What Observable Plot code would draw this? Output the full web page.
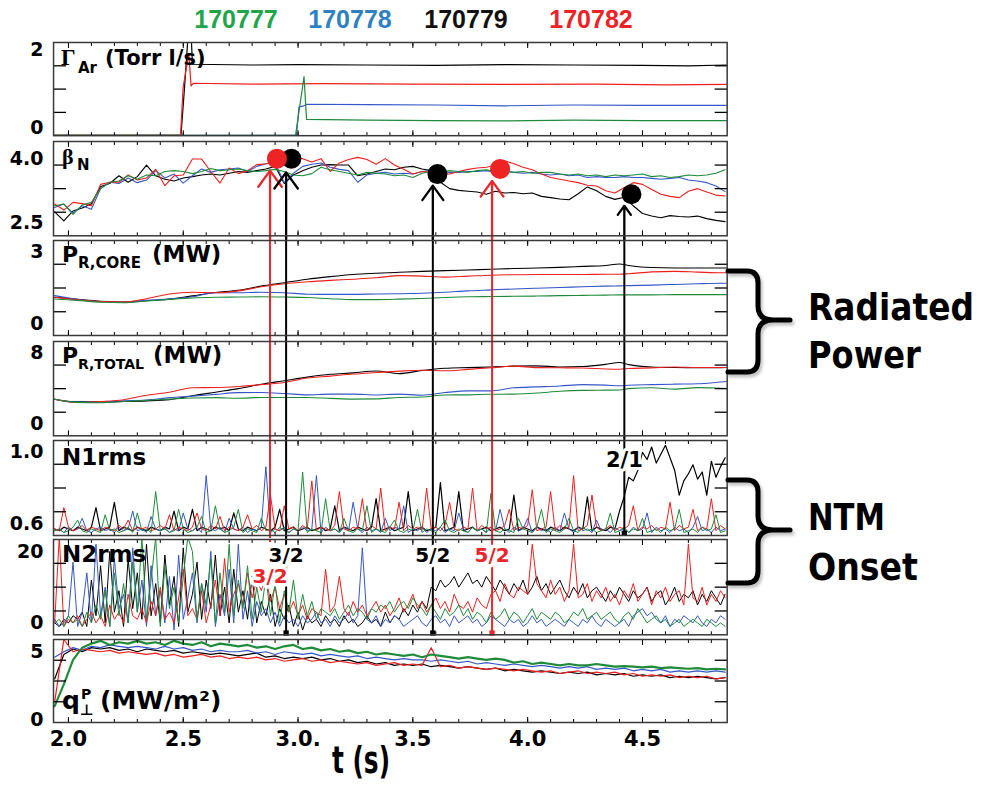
<!DOCTYPE html>
<html><head><meta charset="utf-8">
<script src="https://cdn.jsdelivr.net/npm/d3@7"></script>
<script src="https://cdn.jsdelivr.net/npm/@observablehq/plot@0.6"></script>
<style>
html,body{margin:0;padding:0;background:#fff;}
#fig{position:relative;width:984px;height:786px;overflow:hidden;background:#fff;}
#fig svg{position:absolute;left:0;}
</style></head><body><div id="fig"></div>
<script>
// ---------------- DATA ----------------
const shots = ["170777", "170778", "170779", "170782"];
const legendX = [236, 350, 466, 591];
const legendColors = {"170777": "#21a54b", "170778": "#2f7fc3", "170779": "#111111", "170782": "#ec2227"};
const lineColors = {"170777": "#1f8b3a", "170778": "#3556c8", "170779": "#000000", "170782": "#f01e1e"};
const drawOrder = ["170779", "170778", "170782", "170777"];

const xDomain = [1.935, 4.869];
const xMajor = [2.0, 2.5, 3.0, 3.5, 4.0, 4.5];
const xTickLabels = ["2.0", "2.5", "3.0.", "3.5", "4.0", "4.5"];
const xMinor = [2.0,2.1,2.2,2.3,2.4,2.5,2.6,2.7,2.8,2.9,3.0,3.1,3.2,3.3,3.4,3.5,3.6,3.7,3.8,3.9,4.0,4.1,4.2,4.3,4.4,4.5,4.6,4.7,4.8];

// Gamma_Ar (Torr l/s)
const gamT_170779 = [1.935, 2.49, 2.505, 2.52, 2.535, 2.54, 2.8, 3.0, 3.3, 3.6, 3.9, 4.2, 4.5, 4.7, 4.869];
const gamV_170779 = [-0.19, -0.19, 1.0, 2.3, 2.3, 1.64, 1.62, 1.63, 1.62, 1.61, 1.63, 1.62, 1.61, 1.60, 1.62];
const gamT_170782 = [1.935, 2.488, 2.4995, 2.524, 2.534, 2.543, 2.8, 3.1, 3.5, 3.9, 4.3, 4.6, 4.869];
const gamV_170782 = [-0.19, -0.19, 1.05, 1.92, 1.08, 1.15, 1.13, 1.14, 1.13, 1.12, 1.13, 1.11, 1.12];
const gamT_170778 = [1.935, 2.993, 3.004, 3.02, 3.04, 3.3, 3.6, 3.9, 4.2, 4.5, 4.869];
const gamV_170778 = [-0.19, -0.19, 0.54, 0.56, 0.61, 0.60, 0.59, 0.57, 0.59, 0.58, 0.58];
const gamT_170777 = [1.935, 2.989, 3.026, 3.037, 3.3, 3.6, 3.9, 4.2, 4.5, 4.869];
const gamV_170777 = [-0.19, -0.19, 1.32, 0.22, 0.20, 0.19, 0.18, 0.20, 0.19, 0.19];

// beta_N, sampled every 0.04 s from 1.94 s
const tB = d3.range(74).map(i => Math.round((1.94 + 0.04 * i) * 100) / 100);
const beta_170779 = [2.76,2.55,2.78,2.85,2.95,3.35,3.42,3.60,3.45,3.58, 3.85,3.60,3.52,3.48,3.55,3.58,3.62,3.64,3.62,3.66, 3.70,3.68,3.72,3.76,3.82,3.42,3.62,3.72,3.80,3.85, 3.86,3.85,3.85,3.60,3.64,3.70,3.76,3.74,3.80,3.82, 3.76,3.72,3.45,3.30,3.26,3.24,3.22,3.17,3.24,3.20, 3.21,3.18,3.20,3.12,3.09,3.06,3.04,3.18,3.34,3.25, 3.12,3.05,3.10,2.90,2.72,2.66,2.62,2.67,2.65,2.64, 2.66,2.60,2.56,2.53];
const beta_170782 = [2.94,2.80,2.98,2.95,2.90,3.40,3.45,3.45,3.62,3.50, 3.55,3.75,3.37,3.60,3.62,3.99,3.99,3.70,3.43,3.78, 3.65,3.72,3.86,3.88,3.92,3.95,4.02,4.00,3.92,4.00, 3.70,3.90,3.98,4.03,3.98,3.87,4.00,3.85,3.75,3.64, 3.70,3.68,3.65,3.64,3.70,3.75,3.78,3.80,3.85,3.95, 3.88,3.80,3.74,3.64,3.56,3.52,3.48,3.44,3.38,3.36, 3.25,3.20,3.32,3.44,3.40,3.28,3.17,3.12,3.09,3.24, 3.30,3.22,3.15,3.13];
const beta_170778 = [2.86,2.94,2.73,2.90,2.82,3.30,3.45,3.42,3.55,3.44, 3.50,3.72,3.55,3.64,3.43,3.60,3.76,3.68,3.74,3.76, 3.78,3.70,3.82,3.88,3.90,3.44,3.66,3.82,3.87,3.90, 3.80,3.75,3.72,3.45,3.62,3.66,3.68,3.64,3.66,3.64, 3.70,3.72,3.70,3.68,3.68,3.70,3.70,3.72,3.68,3.70, 3.68,3.66,3.68,3.64,3.62,3.64,3.60,3.62,3.56,3.58, 3.56,3.56,3.58,3.56,3.56,3.54,3.52,3.54,3.56,3.50, 3.48,3.44,3.36,3.23];
const beta_170777 = [2.90,2.94,2.70,2.92,2.98,3.30,3.45,3.48,3.60,3.52, 3.62,3.60,3.70,3.72,3.70,3.65,3.70,3.77,3.72,3.74, 3.76,3.72,3.70,3.72,3.75,3.70,3.62,3.60,3.65,3.80, 3.74,3.70,3.66,3.62,3.68,3.66,3.64,3.60,3.62,3.56, 3.66,3.70,3.68,3.72,3.70,3.68,3.72,3.74,3.70,3.72, 3.68,3.70,3.66,3.68,3.68,3.64,3.62,3.64,3.60,3.62, 3.58,3.62,3.60,3.62,3.64,3.58,3.60,3.56,3.58,3.62, 3.60,3.62,3.66,3.74];

// Radiated power
const tP = [1.94,2.04,2.14,2.24,2.34,2.44,2.54,2.64,2.74,2.84,2.94,3.04,3.14,3.24,3.34,3.44,3.54,3.64,3.74,3.84,3.94,4.04,4.14,4.24,4.34,4.40,4.44,4.54,4.64,4.74,4.84,4.87];
const core_170779 = [1.11,1.02,0.94,0.91,0.97,1.03,1.17,1.31,1.40,1.58, 1.72,1.87,1.98,2.07,2.12,2.16,2.20,2.23,2.26,2.29, 2.32,2.34,2.37,2.41,2.45,2.51,2.45,2.36,2.34,2.34, 2.34,2.34];
const core_170782 = [1.11,1.00,0.93,0.91,1.05,1.25,1.32,1.30,1.38,1.55, 1.68,1.76,1.82,1.87,1.93,2.02,2.00,1.96,2.00,2.04, 2.06,2.07,2.07,2.07,2.08,2.08,2.10,2.18,2.20,2.17, 2.14,2.14];
const core_170778 = [1.18,1.02,0.92,0.90,0.98,1.03,1.13,1.30,1.30,1.32, 1.30,1.24,1.23,1.23,1.25,1.26,1.28,1.32,1.38,1.42, 1.46,1.49,1.52,1.55,1.58,1.59,1.60,1.62,1.65,1.68, 1.70,1.70];
const core_170777 = [1.04,0.98,0.90,0.88,0.95,1.02,1.08,1.11,1.12,1.13, 1.12,1.10,1.05,1.01,1.01,1.03,1.06,1.10,1.13,1.14, 1.15,1.16,1.18,1.19,1.20,1.21,1.21,1.21,1.22,1.22, 1.22,1.22];
const total_170779 = [2.81,2.50,2.50,2.55,2.62,2.75,3.20,3.60,4.00,4.50, 4.90,5.30,5.62,5.78,6.00,5.70,6.05,6.30,6.38,6.45, 6.55,6.58,6.45,6.50,6.75,6.96,6.72,6.45,6.39,6.36, 6.38,6.39];
const total_170782 = [2.81,2.43,2.55,2.75,3.25,3.60,4.10,4.13,4.25,4.45, 4.70,5.20,5.42,5.65,5.82,5.98,6.08,6.02,6.18,6.36, 6.55,6.38,6.36,6.34,6.22,6.20,6.28,6.35,6.45,6.40, 6.39,6.39];
const total_170778 = [2.81,2.45,2.50,2.62,2.72,2.98,3.15,3.35,3.55,3.56, 3.45,3.30,3.38,3.38,3.28,3.38,3.26,3.56,3.75,3.75, 4.10,4.20,4.30,4.45,4.40,4.32,4.38,4.45,4.51,4.55, 4.75,4.81];
const total_170777 = [2.81,2.45,2.40,2.55,2.68,2.82,2.95,2.98,2.92,3.00, 3.00,3.00,2.90,2.82,2.84,3.00,3.05,3.28,3.30,3.36, 3.38,3.50,3.70,3.80,3.83,3.85,4.00,4.10,3.95,4.12, 4.05,4.02];

// N1rms (x100) and N2rms, sampled every 0.02 s from 1.94 s
const tN = d3.range(147).map(i => Math.round((1.94 + 0.02 * i) * 100) / 100);
const n1x100_170782 = [57,56,69,58,56,57,59,56,58,57, 56,58,57,56,59,57,62,56,58,57, 58,56,57,59,57,65,56,58,57,56, 58,66,57,56,59,57,64,56,58,57, 56,58,65,57,59,56,58,76,57,56, 70,57,58,56,59,57,84,56,58,57, 56,59,78,57,56,58,57,74,56,59, 57,80,56,58,57,72,56,59,57,58, 56,80,57,58,56,59,72,57,56,58, 57,80,56,59,57,58,56,57,59,68, 56,58,57,59,79,56,57,58,78,56, 59,57,58,87,56,57,59,76,58,56, 57,59,56,58,57,59,70,56,58,57, 59,56,58,57,72,56,59,57,58,68, 56,58,57,74,56,59,57];
const n1x100_170778 = [56,57,55,58,56,57,63,56,55,57, 58,56,57,55,58,56,57,67,56,57, 55,64,57,56,58,55,57,56,66,57, 56,58,55,87,57,56,58,55,63,57, 56,58,55,57,56,58,92,55,57,56, 58,55,57,56,58,56,57,87,55,58, 56,57,55,58,56,72,57,55,58,56, 57,55,63,56,58,57,70,55,57,56, 58,55,57,56,58,55,57,56,66,57, 55,58,56,57,55,58,56,68,57,55, 58,56,57,63,55,58,56,57,55,58, 56,66,57,55,58,56,57,55,62,56, 57,55,58,56,57,55,58,56,57,66, 55,58,56,57,55,58,56,57,55,58, 64,56,57,55,58,56,57];
const n1x100_170779 = [57,56,58,57,56,58,57,56,58,69, 56,57,58,72,56,58,57,56,58,57, 56,58,57,56,58,57,67,56,58,57, 68,56,58,57,56,58,57,58,56,66, 57,56,58,57,56,58,57,56,58,68, 56,57,58,56,57,58,56,57,58,56, 57,70,56,58,57,56,58,57,56,58, 74,56,57,58,56,57,58,78,56,57, 58,56,57,58,83,56,57,58,78,56, 57,58,56,57,58,56,57,58,56,57, 76,56,58,57,56,58,57,56,58,57, 56,58,57,56,58,57,75,56,58,57, 56,58,57,67,75,86,84,90,100,96, 103,94,99,104,97,90,76,84,88,93, 85,89,76,95,86,92,97];
const n1x100_170777 = [56,57,55,56,58,62,56,55,57,56, 55,65,56,57,55,56,58,55,66,56, 57,55,78,56,57,55,56,68,57,55, 56,58,64,55,56,70,57,55,56,58, 68,55,57,56,55,63,56,57,55,58, 56,55,57,56,89,55,57,56,55,74, 56,57,55,63,56,55,57,56,70,55, 57,56,55,58,62,56,55,57,56,68, 55,57,56,55,58,62,56,55,57,56, 55,58,56,57,55,77,56,55,57,56, 55,63,57,56,55,58,68,55,57,56, 55,57,63,56,55,58,56,57,55,56, 57,66,55,56,58,55,57,56,63,55, 56,57,55,58,56,57,68,55,56,57, 55,58,56,57,65,55,56];
const n2_170779 = [0,-1,1,0,2,1,3,-1,12,2, 16,0,20,3,9,-1,18,4,14,1, 22,2,11,0,19,5,13,-1,21,3, 8,17,1,12,4,19,2,10,0,15, 3,9,1,13,0,6,2,8,-1,4, 1,5,-1,3,-2,2,0,1,-1,2, 0,1,-1,2,0,1,-1,0,2,0, 1,-1,3,0,2,1,4,2,5,3, 6,4,10,9,12,10,11,13,10,12, 14,11,12,10,13,11,9,12,10,8, 11,9,12,8,10,13,9,11,8,10, 12,9,7,10,8,11,7,9,10,8, 6,9,7,10,8,6,9,7,8,10, 6,8,9,5,7,10,6,8,7,9, 5,8,6,9,7,5,8];
const n2_170778 = [1,-1,0,2,17,-1,3,14,0,22, 2,10,-1,18,4,8,0,21,3,12, -1,16,2,9,0,13,-2,19,1,7, 14,0,11,3,20,-1,8,2,15,0, 22,1,9,-1,6,2,4,0,3,-1, 2,0,1,-1,2,0,1,3,0,1, -1,2,0,1,3,0,2,21,1,0, 2,-1,1,0,2,1,-1,0,1,2, 0,-1,1,2,0,1,-1,2,0,1, 2,0,1,-1,0,2,1,0,-1,1, 0,1,-1,0,2,0,1,-1,0,1, 0,-1,1,0,-1,1,0,2,0,-1, 1,0,-1,0,1,-1,2,3,4,2, 3,1,0,2,-1,1,0,2,1,0, 2,0,-1,1,0,2,1];
const n2_170782 = [0,24,-1,1,0,2,-1,1,3,0, 2,-1,5,1,3,0,8,2,1,4, 0,6,2,10,1,3,0,7,15,2, 4,1,9,0,5,12,2,18,3,8, 11,5,14,7,12,9,13,6,10,4, 8,3,6,2,5,1,4,3,2,15, 3,5,13,4,2,6,3,5,2,4, 6,3,5,2,4,7,3,5,8,4, 6,3,5,7,4,6,3,8,5,4, 6,3,7,5,4,8,9,6,11,8, 7,10,9,8,22,11,9,7,12,8, 10,6,9,22,7,8,11,6,9,7, 10,6,8,5,9,7,11,6,8,10, 5,9,7,10,6,8,9,5,22,7, 6,10,5,8,6,9,7];
const n2_170777 = [0,1,-1,2,0,1,-1,3,0,5, 1,9,-1,14,2,11,0,17,3,24, 1,12,24,-1,16,4,10,0,13,24, 20,1,11,5,18,0,14,3,22,2, 12,4,16,1,10,3,13,2,11,0, 9,3,12,1,8,2,6,1,4,3, 2,4,1,3,5,2,4,3,1,4, 3,5,4,6,3,5,6,4,7,5, 4,2,5,3,1,4,2,3,5,2, 4,1,3,2,0,3,1,2,4,1, 3,2,0,2,4,1,3,2,1,3, 2,0,1,3,2,4,1,2,3,1, 2,3,1,0,2,3,1,4,2,0, 1,2,0,1,-1,0,1,-1,0,1, 0,-1,1,0,-1,0,-1];

// q_perp^P (MW/m^2), sampled every 0.04 s from 1.94 s
const q_170777 = [1.0,2.6,4.4,5.3,5.6, 5.8,5.5,5.7,5.6,5.8, 5.6,5.7,5.5,5.8,5.6,5.5,5.7,5.4,5.6,5.5, 5.4,5.5,5.3,5.4,5.2,5.4,5.5,5.2,5.3,5.1, 5.2,5.0,5.1,4.9,5.0,4.8,4.9,4.8,4.7,4.8, 4.6,4.8,4.7,4.6,4.5,4.6,4.5,4.4,4.5,4.4, 4.2,4.3,4.1,4.2,4.1,4.0,4.1,4.0,4.0,4.1, 4.0,3.9,3.95,3.9,3.85,3.9,3.8,3.85,3.8,3.75, 3.8,3.7,3.75,3.7];
const q_170778 = [4.6,5.0,5.3,5.1,5.4, 5.3,5.5,5.4,5.3,5.4, 5.3,5.2,5.4,5.2,5.3,5.1,5.2,5.0,5.1,5.0, 5.0,5.1,4.9,5.0,4.8,5.0,4.9,4.8,4.9,4.7, 4.8,4.7,4.6,4.7,4.5,4.6,4.5,4.4,4.5,4.4, 4.4,4.3,4.4,4.3,4.2,4.3,4.1,4.2,4.1,4.0, 4.1,4.0,3.9,4.0,3.9,3.8,3.9,3.8,3.9,3.7, 3.8,3.7,3.8,3.6,3.7,3.6,3.7,3.5,3.6,3.5, 3.6,3.5,3.6,3.5];
const q_170779 = [3.0,4.8,5.2,5.0,5.3, 5.2,5.3,5.1,5.2,5.0, 5.2,5.1,5.0,5.1,4.9,5.0,4.9,4.8,4.9,4.8, 4.7,4.8,4.9,4.6,4.7,4.5,4.6,4.5,4.6,4.4, 4.5,4.3,4.4,4.2,4.3,4.1,4.2,4.0,4.1,4.0, 4.1,3.9,4.0,3.9,3.8,3.9,3.8,3.7,3.8,3.6, 3.7,3.6,3.5,3.6,3.5,3.4,3.5,3.4,3.5,3.3, 3.4,3.3,3.4,3.2,3.3,3.2,3.3,3.1,3.2,3.1, 3.2,3.1,3.0,3.1];
const q_170782 = [1.3,5.9,5.0,5.2,5.1, 5.0,5.1,4.9,5.0,4.9, 4.8,4.9,4.7,4.8,4.6,4.7,4.8,4.6,4.7,4.5, 4.6,4.5,4.6,4.4,4.5,4.3,4.4,4.5,4.3,4.4, 4.2,4.3,4.2,4.1,4.2,4.0,4.1,4.2,4.0,4.1, 4.0,5.3,3.9,4.0,3.8,3.9,3.8,3.7,3.8,3.7, 3.6,3.7,3.6,3.5,3.6,3.4,3.5,3.6,3.4,3.5, 3.4,3.5,3.3,3.4,3.2,3.3,3.2,3.3,3.1,3.2, 3.1,3.2,3.0,3.1];

// NTM onsets
const onsetMode = ["3/2", "3/2", "5/2", "5/2", "2/1"];
const onsetShot = ["170782", "170779", "170779", "170782", "170779"];
const onsetT = [2.878, 2.948, 3.587, 3.845, 4.421];
const onsetDotT = [2.908, 2.971, 3.607, 3.880, 4.452];
const onsetDotBeta = [4.00, 4.00, 3.64, 3.76, 3.17];
const onsetTipBeta = [3.72, 3.68, 3.37, 3.48, 2.90];
const onsetLabelV = [12.9, 18.9, 18.9, 18.9, 0.957];
const redLineEndN2 = 21.65;

// ---------------- BUILD ----------------
const annoColor = {"170782": "#e8262b", "170779": "#000000"};
const onsets = onsetT.map((t, i) => ({t, mode: onsetMode[i], color: annoColor[onsetShot[i]], dotT: onsetDotT[i], dotV: onsetDotBeta[i], tip: onsetTipBeta[i], labV: onsetLabelV[i]}));
const FONT = "DejaVu Sans";

function ser(t, v) { return {t, v}; }
function rows(s) { return s.t.map((t, k) => ({t, v: s.v[k]})); }

const panels = [
  {top: 42.4, bottom: 135.6, domain: [-0.2, 2.2], labels: [0, 2], fmt: d => String(d),
   series: {"170779": ser(gamT_170779, gamV_170779), "170782": ser(gamT_170782, gamV_170782), "170778": ser(gamT_170778, gamV_170778), "170777": ser(gamT_170777, gamV_170777)}, width: 1.2},
  {top: 140.7, bottom: 235, domain: [2.2, 4.4], labels: [2.5, 4.0], fmt: d => d.toFixed(1),
   series: {"170779": ser(tB, beta_170779), "170782": ser(tB, beta_170782), "170778": ser(tB, beta_170778), "170777": ser(tB, beta_170777)}, width: 1.1, key: "beta"},
  {top: 240, bottom: 335, domain: [-0.5, 3.5], labels: [0, 3], fmt: d => String(d),
   series: {"170779": ser(tP, core_170779), "170782": ser(tP, core_170782), "170778": ser(tP, core_170778), "170777": ser(tP, core_170777)}, width: 1.1, curve: "monotone-x", key: "full"},
  {top: 340.7, bottom: 435, domain: [-4/3, 28/3], labels: [0, 8], fmt: d => String(d),
   series: {"170779": ser(tP, total_170779), "170782": ser(tP, total_170782), "170778": ser(tP, total_170778), "170777": ser(tP, total_170777)}, width: 1.1, curve: "monotone-x", key: "full"},
  {top: 440, bottom: 535, domain: [0.5333, 1.0667], labels: [0.6, 1.0], fmt: d => d.toFixed(1),
   series: {"170779": ser(tN, n1x100_170779.map(d => d / 100)), "170778": ser(tN, n1x100_170778.map(d => d / 100)), "170782": ser(tN, n1x100_170782.map(d => d / 100)), "170777": ser(tN, n1x100_170777.map(d => d / 100))}, width: 1, key: "n1"},
  {top: 539, bottom: 634.3, domain: [-10/3, 70/3], labels: [0, 20], fmt: d => String(d),
   series: {"170779": ser(tN, n2_170779), "170778": ser(tN, n2_170778), "170782": ser(tN, n2_170782), "170777": ser(tN, n2_170777)}, width: 1, key: "n2"},
  {top: 639, bottom: 722, domain: [-0.2, 5.9], labels: [0, 5], fmt: d => String(d),
   series: {"170779": ser(tB, q_170779), "170778": ser(tB, q_170778), "170782": ser(tB, q_170782), "170777": ser(tB, q_170777)}, width: 1.2, last: true}
];

const fig = document.getElementById("fig");

panels.forEach(p => {
  const mt = 3, mb = p.last ? 40 : 3;
  const height = (p.bottom - p.top) + mt + mb;
  const [a, b] = p.domain;
  const quarter = [a + (b - a) / 4, a + (b - a) / 2, a + 3 * (b - a) / 4];
  const marks = [];
  for (const shot of drawOrder) {
    const s = p.series[shot];
    const w = (p.last && shot === "170777") ? 2.2 : (p.key === "n1" && shot === "170779") ? 1.2 : p.width;
    marks.push(Plot.line(rows(s), {x: "t", y: "v", stroke: lineColors[shot], strokeWidth: w, clip: true, curve: p.curve || "linear"}));
  }
  // annotations
  if (p.key === "beta") {
    onsets.forEach(o => marks.push(Plot.arrow([o], {x1: "t", y1: () => a - 0.08, x2: "t", y2: "tip", stroke: o.color, strokeWidth: 2.3, headLength: 13, headAngle: 72})));
    onsets.filter(o => o.color === "#000000").forEach(o => marks.push(Plot.dot([o], {x: "dotT", y: "dotV", r: 10, fill: o.color})));
    onsets.filter(o => o.color !== "#000000").forEach(o => marks.push(Plot.dot([o], {x: "dotT", y: "dotV", r: 10, fill: "#ee2424"})));
  }
  if (p.key === "full") {
    onsets.forEach(o => marks.push(Plot.ruleX([o], {x: "t", stroke: o.color, strokeWidth: 2, insetTop: -3, insetBottom: -3})));
  }
  if (p.key === "n1") {
    onsets.forEach(o => marks.push(Plot.ruleX([o], {x: "t", stroke: o.color, strokeWidth: 2, insetTop: -3, insetBottom: o.mode === "2/1" ? 0 : -3})));
    onsets.filter(o => o.mode === "2/1").forEach(o => {
      marks.push(Plot.dot([o], {x: "t", y: () => a + 0.012, symbol: "square", r: 3, fill: o.color}));
      marks.push(Plot.text([o], {x: "t", y: "labV", text: "mode", fill: o.color, stroke: "white", strokeWidth: 6, strokeLinejoin: "round", paintOrder: "stroke", fontSize: 21, fontWeight: "bold", fontFamily: FONT}));
    });
  }
  if (p.key === "n2") {
    onsets.filter(o => o.mode !== "2/1").forEach((o, i) => {
      if (i === 0) marks.push(Plot.ruleX([o], {x: "t", y1: () => redLineEndN2, y2: () => b, stroke: o.color, strokeWidth: 2, insetTop: -3}));
      else {
        marks.push(Plot.ruleX([o], {x: "t", stroke: o.color, strokeWidth: 2, insetTop: -3}));
        marks.push(Plot.dot([o], {x: "t", y: () => a + 0.5, symbol: "square", r: 3, fill: o.color}));
      }
    });
    onsets.filter(o => o.mode !== "2/1").forEach(o =>
      marks.push(Plot.text([o], {x: "t", y: "labV", text: "mode", fill: o.color, stroke: "white", strokeWidth: 7, strokeLinejoin: "round", paintOrder: "stroke", fontSize: 20, fontWeight: "bold", fontFamily: FONT})));
  }
  // axes
  marks.push(Plot.axisY({anchor: "left", ticks: quarter, tickSize: -13, tickFormat: () => "", label: null, strokeWidth: 1.3}));
  marks.push(Plot.axisY({anchor: "right", ticks: quarter, tickSize: -13, tickFormat: () => "", label: null, strokeWidth: 1.3}));
  marks.push(Plot.axisY({anchor: "left", ticks: p.labels, tickSize: 0, tickPadding: 10, tickFormat: p.fmt, label: null, fontSize: 19, fontWeight: "bold", fontFamily: FONT}));
  marks.push(Plot.axisX({anchor: "top", ticks: xMinor, tickSize: -3, tickFormat: () => "", label: null}));
  marks.push(Plot.axisX({anchor: "bottom", ticks: xMinor, tickSize: -3, tickFormat: () => "", label: null}));
  marks.push(Plot.axisX({anchor: "top", ticks: xMajor, tickSize: -5, tickFormat: () => "", label: null}));
  marks.push(Plot.axisX({anchor: "bottom", ticks: xMajor, tickSize: -5, tickFormat: () => "", label: null}));
  if (p.last) {
    marks.push(Plot.axisX({anchor: "bottom", ticks: xMajor, tickSize: 0, tickPadding: 9, label: null,
      tickFormat: d => xTickLabels[xMajor.findIndex(v => Math.abs(v - d) < 1e-9)], fontSize: 21, fontWeight: "bold", fontFamily: FONT}));
  }
  marks.push(Plot.frame({stroke: "#3a3a3a", strokeWidth: 1.5}));

  const svg = Plot.plot({
    width: 984, height,
    marginLeft: 53, marginRight: 257.3, marginTop: mt, marginBottom: mb,
    x: {domain: xDomain},
    y: {domain: p.domain},
    style: {fontFamily: FONT, fontWeight: "bold", fontSize: "19px", background: "transparent", overflow: "visible", color: "#000"},
    marks
  });
  svg.style.position = "absolute";
  svg.style.left = "0px";
  svg.style.top = (p.top - mt) + "px";
  fig.appendChild(svg);
});

// ---------------- OVERLAY TEXT ----------------
const ov = d3.create("svg").attr("width", 984).attr("height", 786)
  .style("position", "absolute").style("left", "0px").style("top", "0px").style("pointer-events", "none").style("overflow", "visible");
fig.appendChild(ov.node());
function txt(x, y, s, o = {}) {
  const t = ov.append("text").attr("x", o.fit ? 0 : x).attr("y", o.fit ? 0 : y)
    .attr("font-family", o.family || FONT).attr("font-weight", o.weight || "bold")
    .attr("font-size", o.size || 23).attr("fill", o.fill || "#000")
    .attr("text-anchor", o.anchor || "start").text(s);
  if (o.fit) {
    const natural = t.node().getComputedTextLength();
    const sx = natural > 0 ? o.fit / natural : 1;
    t.attr("transform", `translate(${x},${y}) scale(${sx},1)`);
  }
  return t;
}
// legend
shots.forEach((s, i) => txt(legendX[i], 28, s, {family: "Liberation Sans, Arial, sans-serif", size: 25, fill: legendColors[s], anchor: "middle"}));
// panel names
txt(61, 65, "Γ", {family: "Liberation Serif, serif", size: 23});
txt(78, 73, "Ar", {size: 15});
txt(105, 65, "(Torr l/s)", {size: 21});
txt(62, 164, "β", {family: "Liberation Serif, serif", size: 22});
txt(77, 170, "N", {size: 15});
txt(62, 262, "P", {size: 22});
txt(78, 268, "R,CORE", {size: 15});
txt(152, 262, "(MW)", {size: 23});
txt(62, 363, "P", {size: 22});
txt(78, 369, "R,TOTAL", {size: 14});
txt(153, 363, "(MW)", {size: 23});
txt(62, 465, "N1rms", {size: 23});
txt(62, 562, "N2rms", {size: 23});
txt(62, 709, "q", {size: 25});
txt(80, 715, "⊥", {size: 15});
txt(81, 699, "P", {size: 14});
txt(100, 709, "(MW/m²)", {size: 25});
// x label
txt(361, 773, "t (s)", {size: 38, anchor: "middle", fit: 58});
// brackets
const defs = ov.append("defs");
defs.append("filter").attr("id", "sh").append("feGaussianBlur").attr("stdDeviation", 1.5);
const br1 = "M728,271 H747 Q758,271 758,283 V306 Q758,320 773,320 H790 M773,320 Q758,320 758,334 V360 Q758,372 747,372 H728";
const br2 = "M728,480 H747 Q758,480 758,492 V516 Q758,530 773,530 H790 M773,530 Q758,530 758,544 V571 Q758,583 747,583 H728";
[br1, br2].forEach(d => {
  ov.append("path").attr("d", d).attr("fill", "none").attr("stroke", "#999").attr("stroke-width", 5)
    .attr("stroke-linecap", "round").attr("stroke-linejoin", "round").attr("transform", "translate(2,3)").attr("filter", "url(#sh)").attr("opacity", 0.6);
  ov.append("path").attr("d", d).attr("fill", "none").attr("stroke", "#000").attr("stroke-width", 5)
    .attr("stroke-linecap", "round").attr("stroke-linejoin", "round");
});
txt(808, 320, "Radiated", {size: 38, fit: 166});
txt(808, 368, "Power", {size: 38, fit: 113});
txt(808, 530, "NTM", {size: 38, fit: 77});
txt(808, 580, "Onset", {size: 38, fit: 110});
</script></body></html>
